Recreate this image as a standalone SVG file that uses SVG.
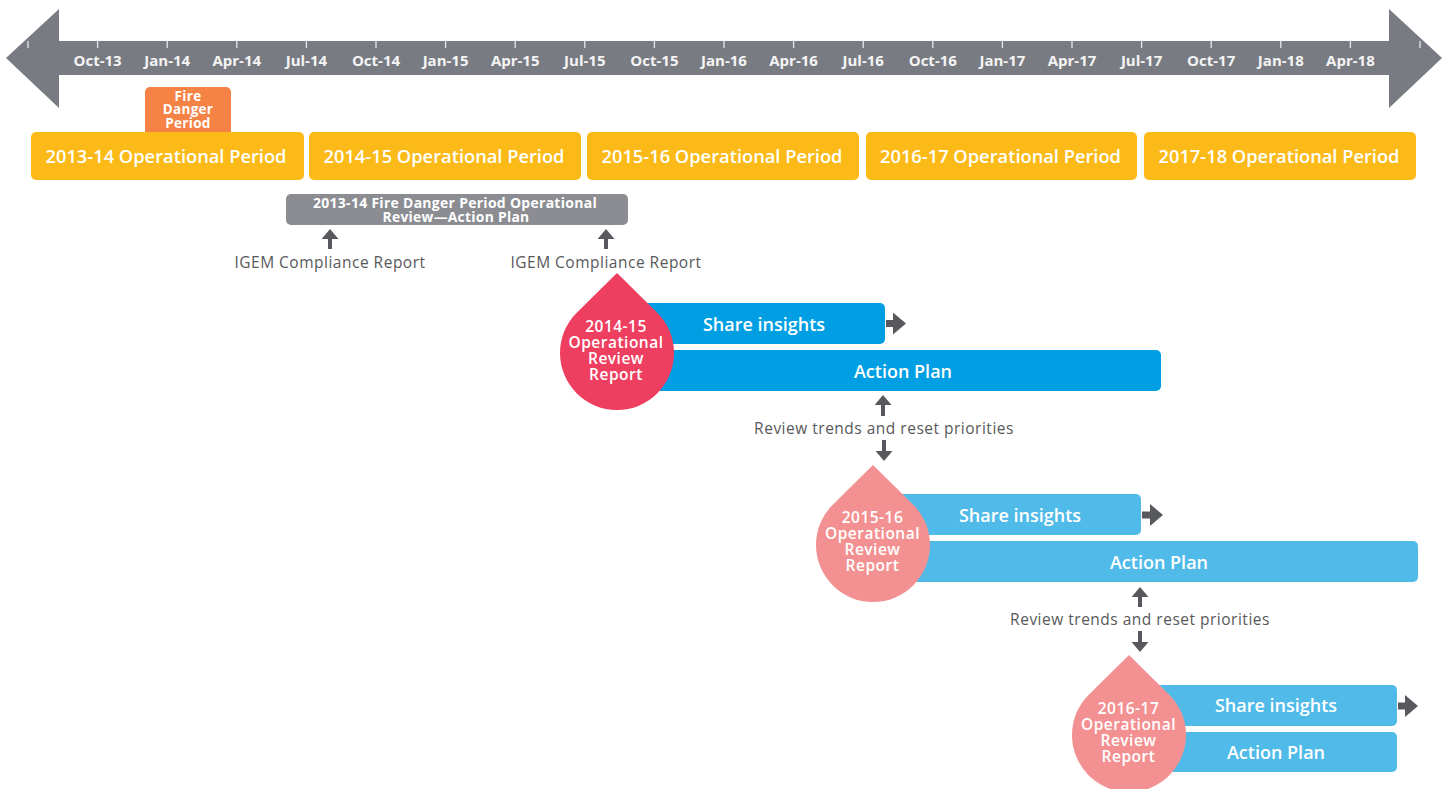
<svg xmlns="http://www.w3.org/2000/svg" width="1450" height="789" viewBox="0 0 1450 789">
<style>
.tl{font-family:"Open Sans","Liberation Sans",sans-serif;font-weight:700;font-size:15px;fill:#f4f4f4;text-anchor:middle}
.tick{stroke:#e8e8ea;stroke-width:1.3}
.yel{fill:#fbba18}
.ytx{font-family:"Open Sans","Liberation Sans",sans-serif;font-weight:600;font-size:18.3px;fill:#fff;text-anchor:middle}
.btx{font-family:"Open Sans","Liberation Sans",sans-serif;font-weight:600;font-size:18px;fill:#fff;text-anchor:middle}
.dtx{font-family:"Open Sans","Liberation Sans",sans-serif;font-weight:600;font-size:15.5px;letter-spacing:0.5px;fill:#fff;text-anchor:middle}
.sm{font-family:"Open Sans","Liberation Sans",sans-serif;font-weight:700;font-size:13.5px;letter-spacing:0.3px;fill:#fff;text-anchor:middle}
.lbl{font-family:"Open Sans","Liberation Sans",sans-serif;font-weight:400;font-size:15.5px;letter-spacing:0.5px;fill:#58595b;text-anchor:middle}
.b1{fill:#009fe3}
.b2{fill:#50bbe9}
.vs{stroke:#58595e;stroke-width:4;fill:none}
.hs{stroke:#58595e;stroke-width:7;fill:none}
</style>
<defs>
<marker id="headS" viewBox="0 0 10 10" refX="0" refY="5" markerUnits="userSpaceOnUse" markerWidth="10" markerHeight="17" orient="auto" preserveAspectRatio="none"><path d="M0,0 L10,5 L0,10 z" fill="#58595e"/></marker>
<marker id="headL" viewBox="0 0 10 10" refX="0" refY="5" markerUnits="userSpaceOnUse" markerWidth="13" markerHeight="22" orient="auto" preserveAspectRatio="none"><path d="M0,0 L10,5 L0,10 z" fill="#58595e"/></marker>
</defs>

<g id="timeline">
<polygon points="6,58 59,9 59,41 1389,41 1389,9 1442,58 1389,108 1389,75 59,75 59,108" fill="#797b82"/>
<g class="tick">
<line x1="28" y1="41" x2="28" y2="48"/><line x1="97.6" y1="41" x2="97.6" y2="48"/><line x1="167.2" y1="41" x2="167.2" y2="48"/><line x1="236.8" y1="41" x2="236.8" y2="48"/><line x1="306.4" y1="41" x2="306.4" y2="48"/><line x1="376" y1="41" x2="376" y2="48"/><line x1="445.6" y1="41" x2="445.6" y2="48"/><line x1="515.2" y1="41" x2="515.2" y2="48"/><line x1="584.8" y1="41" x2="584.8" y2="48"/><line x1="654.4" y1="41" x2="654.4" y2="48"/><line x1="724" y1="41" x2="724" y2="48"/><line x1="793.6" y1="41" x2="793.6" y2="48"/><line x1="863.2" y1="41" x2="863.2" y2="48"/><line x1="932.8" y1="41" x2="932.8" y2="48"/><line x1="1002.4" y1="41" x2="1002.4" y2="48"/><line x1="1072" y1="41" x2="1072" y2="48"/><line x1="1141.6" y1="41" x2="1141.6" y2="48"/><line x1="1211.2" y1="41" x2="1211.2" y2="48"/><line x1="1280.8" y1="41" x2="1280.8" y2="48"/><line x1="1350.4" y1="41" x2="1350.4" y2="48"/><line x1="1420" y1="41" x2="1420" y2="48"/>
</g>
<text class="tl" x="97.6" y="66">Oct-13</text><text class="tl" x="167.2" y="66">Jan-14</text><text class="tl" x="236.8" y="66">Apr-14</text><text class="tl" x="306.4" y="66">Jul-14</text><text class="tl" x="376" y="66">Oct-14</text><text class="tl" x="445.6" y="66">Jan-15</text><text class="tl" x="515.2" y="66">Apr-15</text><text class="tl" x="584.8" y="66">Jul-15</text><text class="tl" x="654.4" y="66">Oct-15</text><text class="tl" x="724" y="66">Jan-16</text><text class="tl" x="793.6" y="66">Apr-16</text><text class="tl" x="863.2" y="66">Jul-16</text><text class="tl" x="932.8" y="66">Oct-16</text><text class="tl" x="1002.4" y="66">Jan-17</text><text class="tl" x="1072" y="66">Apr-17</text><text class="tl" x="1141.6" y="66">Jul-17</text><text class="tl" x="1211.2" y="66">Oct-17</text><text class="tl" x="1280.8" y="66">Jan-18</text><text class="tl" x="1350.4" y="66">Apr-18</text>
</g>

<g id="fire-danger">
<rect x="145" y="87" width="86" height="55" rx="5" fill="#f58346"/>
<text class="sm" x="188" y="101">Fire</text>
<text class="sm" x="188" y="114">Danger</text>
<text class="sm" x="188" y="127.5">Period</text>
</g>

<g id="op-2013-14"><rect class="yel" x="31" y="132" width="273" height="48" rx="5"/><text class="ytx" x="166" y="162.5">2013-14 Operational Period</text></g>
<g id="op-2014-15"><rect class="yel" x="309" y="132" width="272" height="48" rx="5"/><text class="ytx" x="444" y="162.5">2014-15 Operational Period</text></g>
<g id="op-2015-16"><rect class="yel" x="587" y="132" width="272" height="48" rx="5"/><text class="ytx" x="722" y="162.5">2015-16 Operational Period</text></g>
<g id="op-2016-17"><rect class="yel" x="866" y="132" width="271" height="48" rx="5"/><text class="ytx" x="1000.5" y="162.5">2016-17 Operational Period</text></g>
<g id="op-2017-18"><rect class="yel" x="1144" y="132" width="272" height="48" rx="5"/><text class="ytx" x="1279" y="162.5">2017-18 Operational Period</text></g>

<g id="fdp-review">
<rect x="286" y="194" width="342" height="31" rx="5" fill="#8b8d93"/>
<text class="sm" x="455" y="208" textLength="284" lengthAdjust="spacingAndGlyphs">2013-14 Fire Danger Period Operational</text>
<text class="sm" x="456" y="221.5" textLength="147" lengthAdjust="spacingAndGlyphs">Review—Action Plan</text>
</g>

<g id="igem-1"><text class="lbl" x="330" y="268">IGEM Compliance Report</text></g>
<g id="igem-2"><text class="lbl" x="606" y="268">IGEM Compliance Report</text></g>

<g id="row-2014-15">
<rect class="b1" x="617" y="303" width="268" height="41" rx="5"/>
<rect class="b1" x="617" y="350" width="544" height="41" rx="5"/>
<text class="btx" x="764" y="331">Share insights</text>
<text class="btx" x="903" y="378">Action Plan</text>
<path d="M617,273 L577,312.4 A57,57 0 1 0 657,312.4 Z" fill="#ee3f61"/>
<text class="dtx" x="616" y="332">2014-15</text>
<text class="dtx" x="616" y="348">Operational</text>
<text class="dtx" x="616" y="364">Review</text>
<text class="dtx" x="616" y="380">Report</text>
</g>

<g id="review-1"><text class="lbl" x="884" y="434">Review trends and reset priorities</text></g>

<g id="row-2015-16">
<rect class="b2" x="873" y="494" width="268" height="41" rx="5"/>
<rect class="b2" x="873" y="541" width="545" height="41" rx="5"/>
<text class="btx" x="1020" y="522">Share insights</text>
<text class="btx" x="1159" y="569">Action Plan</text>
<path d="M873,465 L833,504.4 A57,57 0 1 0 913,504.4 Z" fill="#f39192"/>
<text class="dtx" x="872.5" y="523">2015-16</text>
<text class="dtx" x="872.5" y="539">Operational</text>
<text class="dtx" x="872.5" y="555">Review</text>
<text class="dtx" x="872.5" y="571">Report</text>
</g>

<g id="review-2"><text class="lbl" x="1140" y="625">Review trends and reset priorities</text></g>

<g id="row-2016-17">
<rect class="b2" x="1129" y="685" width="268" height="41" rx="5"/>
<rect class="b2" x="1129" y="732" width="268" height="40" rx="5"/>
<text class="btx" x="1276" y="712">Share insights</text>
<text class="btx" x="1276" y="759">Action Plan</text>
<path d="M1129,655 L1089,694.4 A57,57 0 1 0 1169,694.4 Z" fill="#f39192"/>
<text class="dtx" x="1128.5" y="714">2016-17</text>
<text class="dtx" x="1128.5" y="730">Operational</text>
<text class="dtx" x="1128.5" y="746">Review</text>
<text class="dtx" x="1128.5" y="762">Report</text>
</g>

<g id="connectors">
<line class="vs" x1="330" y1="249" x2="330" y2="239" stroke-width="3.5" marker-end="url(#headS)"/>
<line class="vs" x1="606" y1="249" x2="606" y2="239" stroke-width="3.5" marker-end="url(#headS)"/>
<line class="vs" x1="883" y1="416" x2="883" y2="405" marker-end="url(#headS)"/>
<line class="vs" x1="884" y1="440" x2="884" y2="451" marker-end="url(#headS)"/>
<line class="vs" x1="1140" y1="607" x2="1140" y2="597" marker-end="url(#headS)"/>
<line class="vs" x1="1140" y1="631" x2="1140" y2="642" marker-end="url(#headS)"/>
<line class="hs" x1="886" y1="323.5" x2="893" y2="323.5" marker-end="url(#headL)"/>
<line class="hs" x1="1142" y1="515" x2="1150" y2="515" marker-end="url(#headL)"/>
<line class="hs" x1="1398" y1="706" x2="1405" y2="706" marker-end="url(#headL)"/>
</g>
</svg>
